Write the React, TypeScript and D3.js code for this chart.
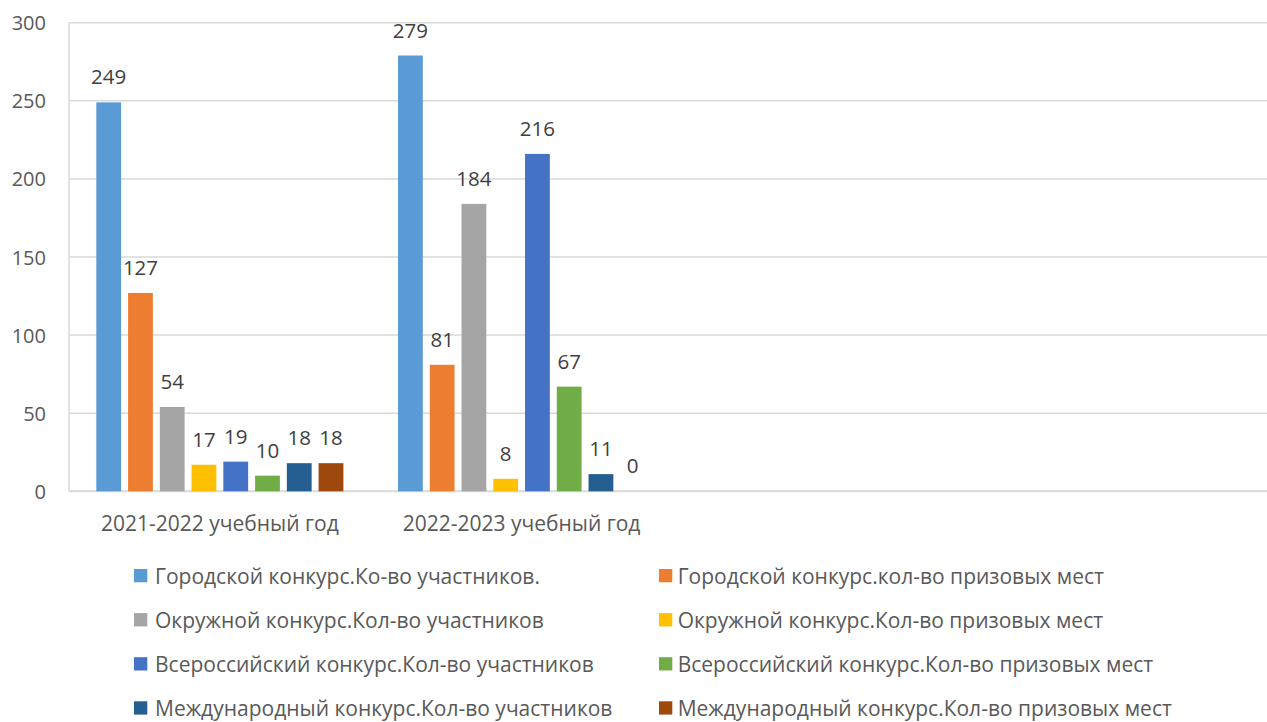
import React, { useEffect } from "react";
import * as d3 from "d3";

const categories = ["2021-2022 учебный год", "2022-2023 учебный год"];

const seriesNames = [
  "Городской конкурс.Ко-во участников.",
  "Городской конкурс.кол-во призовых мест",
  "Окружной конкурс.Кол-во участников",
  "Окружной конкурс.Кол-во призовых мест",
  "Всероссийский конкурс.Кол-во участников",
  "Всероссийский конкурс.Кол-во призовых мест",
  "Международный конкурс.Кол-во участников",
  "Международный конкурс.Кол-во призовых мест",
];

const seriesColors = [
  "#5B9BD5",
  "#ED7D31",
  "#A5A5A5",
  "#FFC000",
  "#4472C4",
  "#70AD47",
  "#255E91",
  "#9E480E",
];

const values2021 = [249, 127, 54, 17, 19, 10, 18, 18];
const values2022 = [279, 81, 184, 8, 216, 67, 11, 0];

const yTicks = [0, 50, 100, 150, 200, 250, 300];

const W = 1267;
const H = 722;
const FONT = "'Open Sans', 'Noto Sans', sans-serif";

export default function App() {
  useEffect(() => {
    document.body.style.margin = "0";
  }, []);

  const plotLeft = 69;
  const plotRight = W;
  const bandW = 301.7;

  const y = d3.scaleLinear().domain([0, 300]).range([491.3, 22.7]);
  const x0 = d3
    .scaleBand<string>()
    .domain(categories)
    .range([plotLeft, plotLeft + bandW * categories.length])
    .paddingInner(0)
    .paddingOuter(0);
  const x1 = d3
    .scaleBand<string>()
    .domain(seriesNames)
    .range([0, bandW])
    .paddingInner(0.219)
    .paddingOuter(0.86);

  const valuesByCat = [values2021, values2022];

  return (
    <svg width={W} height={H} style={{ display: "block", background: "#fff" }} fontFamily={FONT}>
      {/* gridlines */}
      {yTicks.map((t) => (
        <line
          key={"g" + t}
          x1={plotLeft}
          x2={plotRight}
          y1={y(t)}
          y2={y(t)}
          stroke="#d9d9d9"
          strokeWidth={t === 0 ? 2 : 1.5}
        />
      ))}
      <line x1={plotLeft} x2={plotLeft} y1={y(300)} y2={y(0)} stroke="#d9d9d9" strokeWidth={1.5} />
      {/* y tick labels */}
      {yTicks.map((t) => (
        <text key={"t" + t} x={46} y={y(t) + 7.5} textAnchor="end" fontSize={20} fill="#595959">
          {t}
        </text>
      ))}
      {/* bars */}
      {categories.map((c, ci) => (
        <g key={c} transform={`translate(${x0(c)},0)`}>
          {seriesNames.map((s, si) => {
            const v = valuesByCat[ci][si];
            const bx = x1(s)!;
            return (
              <g key={s}>
                <rect
                  x={bx}
                  y={y(v)}
                  width={x1.bandwidth()}
                  height={y(0) - y(v)}
                  fill={seriesColors[si]}
                />
                <text
                  x={bx + x1.bandwidth() / 2}
                  y={y(v) - 18}
                  textAnchor="middle"
                  fontSize={20.5}
                  fill="#404040"
                >
                  {v}
                </text>
              </g>
            );
          })}
        </g>
      ))}
      {/* category labels */}
      {categories.map((c) => (
        <text
          key={"c" + c}
          x={x0(c)! + x0.bandwidth() / 2}
          y={531}
          textAnchor="middle"
          fontSize={21}
          fill="#595959"
        >
          {c}
        </text>
      ))}
      {/* legend */}
      {seriesNames.map((s, i) => {
        const col = i % 2;
        const row = Math.floor(i / 2);
        const mx = col === 0 ? 134 : 659;
        const tx = col === 0 ? 155 : 677.7;
        const base = 583.5 + row * 44.1;
        return (
          <g key={"l" + s}>
            <rect x={mx} y={base - 14.5} width={13.3} height={13.3} fill={seriesColors[i]} />
            <text x={tx} y={base} fontSize={21} fill="#595959">
              {s}
            </text>
          </g>
        );
      })}
    </svg>
  );
}
